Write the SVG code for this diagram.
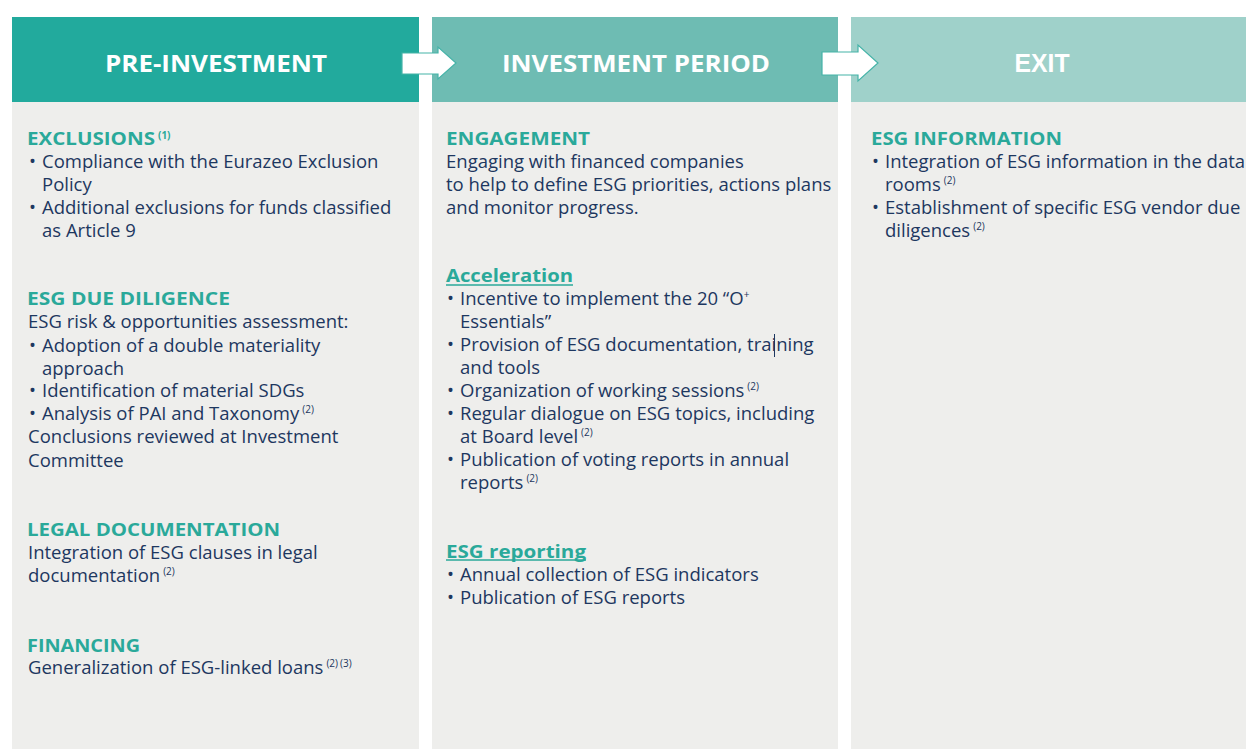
<svg xmlns="http://www.w3.org/2000/svg" width="1246" height="749" viewBox="0 0 1246 749">
<style>
.hd{font-family:"Open Sans","Liberation Sans",sans-serif;font-weight:700;font-size:24px;fill:#ffffff;text-anchor:middle}
.hdx{font-family:"Liberation Sans",Arial,sans-serif;font-weight:700;font-size:25px;fill:#ffffff;text-anchor:middle}
.tt{font-family:"Open Sans","Liberation Sans",sans-serif;font-weight:700;font-size:18px;fill:#2aa99a}
.bd{font-family:"Open Sans","Liberation Sans",sans-serif;font-size:18.5px;fill:#1d3760}
.sp{font-size:10px}
.sp1{font-family:"Open Sans","Liberation Sans",sans-serif;font-size:10px;font-weight:700;fill:#2aa99a}
.body{fill:#eeeeec}
.arrow{fill:#ffffff;stroke:#45b3a8;stroke-width:1.2}
.ul{stroke:#2aa99a;stroke-width:1.5}
</style>
<rect width="1246" height="749" fill="#ffffff"/>
<g id="pre-investment">
<rect class="body" x="12" y="102" width="407" height="647"/>
<rect x="12" y="17" width="407" height="85" fill="#22aa9d"/>
<text class="hd" x="216" y="72" textLength="222" lengthAdjust="spacingAndGlyphs">PRE-INVESTMENT</text>
<text class="tt" x="27" y="145" textLength="128" lengthAdjust="spacingAndGlyphs">EXCLUSIONS</text>
<text class="sp1" x="158" y="139">(1)</text>
<text class="bd" x="29" y="168">•</text><text class="bd" x="42" y="168">Compliance with the Eurazeo Exclusion</text>
<text class="bd" x="42" y="191">Policy</text>
<text class="bd" x="29" y="214">•</text><text class="bd" x="42" y="214">Additional exclusions for funds classified</text>
<text class="bd" x="42" y="237">as Article 9</text>
<text class="tt" x="27" y="305" textLength="203" lengthAdjust="spacingAndGlyphs">ESG DUE DILIGENCE</text>
<text class="bd" x="28" y="328">ESG risk &amp; opportunities assessment:</text>
<text class="bd" x="29" y="352">•</text><text class="bd" x="42" y="352">Adoption of a double materiality</text>
<text class="bd" x="42" y="375">approach</text>
<text class="bd" x="29" y="397">•</text><text class="bd" x="42" y="397">Identification of material SDGs</text>
<text class="bd" x="29" y="420">•</text><text class="bd" x="42" y="420">Analysis of PAI and Taxonomy<tspan class="sp" dx="3" dy="-7">(2)</tspan></text>
<text class="bd" x="28" y="443">Conclusions reviewed at Investment</text>
<text class="bd" x="28" y="467">Committee</text>
<text class="tt" x="27" y="536" textLength="253" lengthAdjust="spacingAndGlyphs">LEGAL DOCUMENTATION</text>
<text class="bd" x="28" y="559">Integration of ESG clauses in legal</text>
<text class="bd" x="28" y="582">documentation<tspan class="sp" dx="3" dy="-7">(2)</tspan></text>
<text class="tt" x="27" y="652" textLength="113" lengthAdjust="spacingAndGlyphs">FINANCING</text>
<text class="bd" x="28" y="674">Generalization of ESG-linked loans<tspan class="sp" dx="3" dy="-7">(2)</tspan><tspan class="sp" dx="2">(3)</tspan></text>
</g>
<g id="investment-period">
<rect class="body" x="432" y="102" width="406" height="647"/>
<rect x="432" y="17" width="406" height="85" fill="#6ebcb3"/>
<text class="hd" x="636" y="72" textLength="268" lengthAdjust="spacingAndGlyphs">INVESTMENT PERIOD</text>
<text class="tt" x="446" y="145" textLength="144" lengthAdjust="spacingAndGlyphs">ENGAGEMENT</text>
<text class="bd" x="446" y="168">Engaging with financed companies</text>
<text class="bd" x="446" y="191">to help to define ESG priorities, actions plans</text>
<text class="bd" x="446" y="214">and monitor progress.</text>
<text class="tt" x="446" y="282" textLength="127" lengthAdjust="spacingAndGlyphs">Acceleration</text>
<line class="ul" x1="446" y1="285" x2="573" y2="285"/>
<text class="bd" x="447" y="305">•</text><text class="bd" x="460" y="305">Incentive to implement the 20 “O<tspan class="sp" dy="-7">+</tspan></text>
<text class="bd" x="460" y="328">Essentials”</text>
<text class="bd" x="447" y="351">•</text><text class="bd" x="460" y="351">Provision of ESG documentation, training</text>
<line x1="774.5" y1="334" x2="774.5" y2="357" stroke="#1d3760" stroke-width="1"/>
<text class="bd" x="460" y="374">and tools</text>
<text class="bd" x="447" y="397">•</text><text class="bd" x="460" y="397">Organization of working sessions<tspan class="sp" dx="3" dy="-7">(2)</tspan></text>
<text class="bd" x="447" y="420">•</text><text class="bd" x="460" y="420">Regular dialogue on ESG topics, including</text>
<text class="bd" x="460" y="443">at Board level<tspan class="sp" dx="3" dy="-7">(2)</tspan></text>
<text class="bd" x="447" y="466">•</text><text class="bd" x="460" y="466">Publication of voting reports in annual</text>
<text class="bd" x="460" y="489">reports<tspan class="sp" dx="3" dy="-7">(2)</tspan></text>
<text class="tt" x="446" y="558" textLength="140" lengthAdjust="spacingAndGlyphs">ESG reporting</text>
<line class="ul" x1="446" y1="560" x2="586" y2="560"/>
<text class="bd" x="447" y="581">•</text><text class="bd" x="460" y="581">Annual collection of ESG indicators</text>
<text class="bd" x="447" y="604">•</text><text class="bd" x="460" y="604">Publication of ESG reports</text>
</g>
<g id="exit">
<rect class="body" x="851" y="102" width="395" height="647"/>
<rect x="851" y="17" width="395" height="85" fill="#9fd1ca"/>
<text class="hdx" x="1042" y="72" textLength="55" lengthAdjust="spacingAndGlyphs">EXIT</text>
<text class="tt" x="871" y="145" textLength="191" lengthAdjust="spacingAndGlyphs">ESG INFORMATION</text>
<text class="bd" x="872" y="168">•</text><text class="bd" x="885" y="168">Integration of ESG information in the data</text>
<text class="bd" x="885" y="191">rooms<tspan class="sp" dx="3" dy="-7">(2)</tspan></text>
<text class="bd" x="872" y="214">•</text><text class="bd" x="885" y="214">Establishment of specific ESG vendor due</text>
<text class="bd" x="885" y="237">diligences<tspan class="sp" dx="3" dy="-7">(2)</tspan></text>
</g>
<g id="connectors">
<polygon class="arrow" points="402,53 438,53 438,47 456,63 438,79 438,74 402,74"/>
<polygon class="arrow" points="822,52 858,52 858,45 878,63 858,81 858,75 822,75"/>
</g>
</svg>
